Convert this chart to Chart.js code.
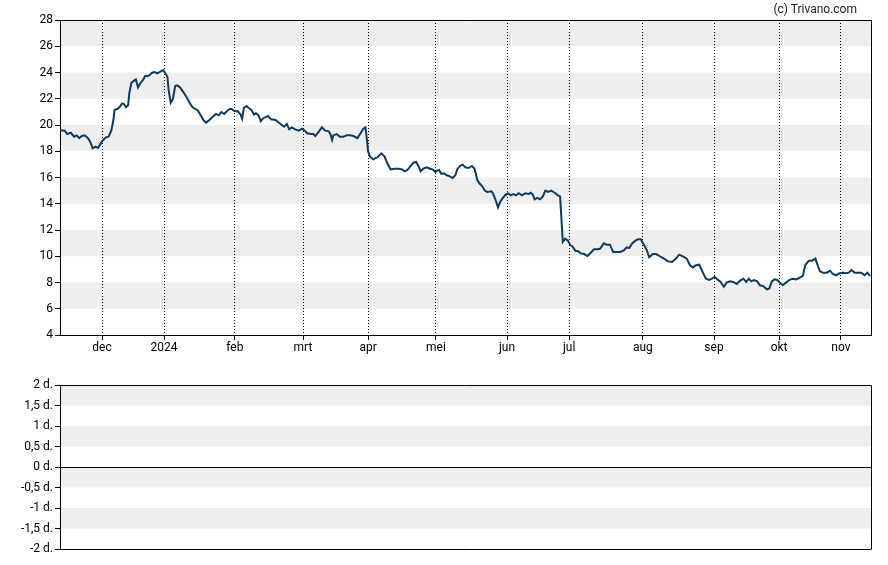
<!DOCTYPE html>
<html>
<head>
<meta charset="utf-8">
<script src="https://cdn.jsdelivr.net/npm/chart.js@4"></script>
<style>
  html, body { margin: 0; padding: 0; background: #fff; }
  body { width: 888px; height: 565px; position: relative; overflow: hidden; font-family: Roboto, "Liberation Sans", sans-serif; }
  #top { position: absolute; left: 0; top: 0; width: 888px; height: 365px; }
  #bot { position: absolute; left: 0; top: 365px; width: 888px; height: 200px; }
  #credit { position: absolute; top: 2px; right: 31px; font-size: 12px; color: #222; line-height: 14px; }
</style>
</head>
<body>
<div id="top"><canvas id="c1" width="888" height="365"></canvas></div>
<div id="bot"><canvas id="c2" width="888" height="200"></canvas></div>
<div id="credit">(c) Trivano.com</div>
<script>
// trading-session index (x) and closing price (y)
const sessions = [0,1.6,2.4,3.6,4.7,5.6,6.4,7.3,8.2,9.1,10,10.9,11.8,12.7,13.6,14.4,15.3,16.2,17.1,17.8,18.2,19.3,20,20.7,21.3,22,22.7,23.1,23.8,24.7,25.3,26,26.9,27.8,28.4,29.3,30,30.7,31.6,32.4,33.3,34.4,35.1,35.8,36.2,36.9,37.6,38.4,39.1,40,41.1,42.2,43.3,44.2,45.3,46,46.9,47.8,48.7,49.8,50.9,52,52.9,53.8,54.7,55.8,56.7,57.3,58.2,59.3,60.2,60.7,61.3,62.2,62.9,63.8,64.7,65.3,66.2,66.9,67.6,68.4,69.3,70.4,71.8,72.7,73.8,74.7,75.6,76.4,77.3,78.4,79.6,80.7,81.6,82.4,83.6,84.4,85.1,86.2,87.3,88.4,89.6,90.2,90.7,91.1,92.2,93.3,94.4,95.6,96.7,97.8,99.1,100.2,101.1,101.8,102.2,102.7,103.3,104.4,105.8,107.1,108.2,109.1,110.2,111.6,112.9,114,114.9,115.8,116.9,117.8,118.7,119.6,120.2,121.1,122.2,123.3,124.2,125.1,125.8,126.4,127.1,128,128.9,129.8,130.9,131.8,132.4,133.3,134.2,135.1,136.2,137.3,138.2,139.1,139.8,140.7,141.6,142.4,143.8,144.4,145.1,146,146.7,147.6,148.4,149.3,150.2,151.1,152,152.9,154,155.1,156.2,156.9,157.6,158.2,159.1,160,160.9,161.8,162.7,163.8,164.9,166,166.7,167.1,167.6,168.4,169.3,170,170.9,171.8,172.7,173.6,174.7,175.8,176.9,178,179.1,180,181.3,182.2,183.3,184.4,185.6,186.7,187.8,188.9,189.8,190.7,191.8,192.7,193.6,194.4,195.6,196.4,197.6,198.7,199.8,201.3,202.7,204,205.3,206.4,207.8,208.9,210,210.9,212,213.1,214.2,215.3,216.4,217.3,218.2,219.1,220.2,221.3,222.2,223.3,224.4,225.6,226.7,227.8,228.7,229.6,230.4,231.3,232.4,233.3,234.4,235.6,236.4,237.3,238.2,239.1,240,240.9,242,243.1,244.2,245.3,246.4,247.6,248.4,249.6,250.7,251.8,252.4,253.3,254.4,255.6,256.7,257.6,258.7,259.8,260.9,262,262.9,263.8,264.9,266,267.1,268.2,269.1,270];
const prices = [19.6,19.57,19.31,19.41,19.11,19.21,19.0,19.16,19.21,19.06,18.76,18.22,18.35,18.25,18.6,18.86,19.06,19.11,19.57,20.38,21.14,21.24,21.4,21.65,21.6,21.35,21.5,22.41,23.22,23.38,23.48,22.87,23.22,23.48,23.73,23.73,23.83,23.98,24.04,23.94,24.04,24.19,23.94,23.68,22.67,21.7,21.96,22.97,23.02,22.87,22.51,22.11,21.65,21.35,21.2,21.09,20.74,20.38,20.18,20.38,20.63,20.84,20.74,20.99,20.84,21.09,21.24,21.2,21.04,21.04,20.79,20.48,21.3,21.45,21.3,21.14,20.79,20.89,20.74,20.28,20.48,20.59,20.69,20.43,20.38,20.23,20.02,19.87,20.08,19.67,19.82,19.67,19.57,19.72,19.57,19.37,19.31,19.31,19.16,19.47,19.82,19.57,19.52,19.26,18.86,19.21,19.31,19.11,19.11,19.21,19.21,19.16,19.0,19.37,19.72,19.82,19.11,18.0,17.59,17.39,17.54,17.84,17.59,17.08,16.62,16.67,16.67,16.62,16.47,16.57,16.88,17.13,17.18,16.82,16.47,16.67,16.78,16.67,16.62,16.42,16.52,16.57,16.27,16.32,16.17,16.11,15.96,16.17,16.62,16.88,16.98,16.78,16.72,16.88,16.67,15.81,15.56,15.35,15.0,14.9,14.95,14.74,14.34,13.73,14.13,14.44,14.64,14.8,14.64,14.74,14.64,14.8,14.64,14.8,14.74,14.84,14.69,14.34,14.44,14.34,14.54,15.0,14.9,15.0,14.84,14.64,14.54,13.01,11.09,11.34,11.19,10.88,10.73,10.42,10.38,10.22,10.17,10.02,10.27,10.53,10.53,10.57,10.98,10.88,10.88,10.32,10.32,10.32,10.42,10.67,10.63,10.98,11.19,11.29,11.29,10.98,10.47,9.92,10.17,10.17,10.02,9.82,9.61,9.56,9.82,10.12,9.97,9.82,9.31,9.15,9.31,9.36,8.80,8.29,8.19,8.29,8.44,8.24,8.04,7.68,7.99,8.09,8.04,7.89,8.14,8.29,8.04,8.29,8.09,8.19,8.09,7.79,7.73,7.48,7.53,8.09,8.24,8.19,7.99,7.79,7.99,8.19,8.29,8.24,8.34,8.50,9.31,9.66,9.66,9.82,9.41,8.85,8.75,8.75,8.90,8.65,8.55,8.70,8.75,8.70,8.75,8.95,8.75,8.75,8.75,8.55,8.75,8.50];
const monthTicks = [14, 34.7, 58.3, 81, 102.7, 125.3, 149, 169.7, 194.3, 218, 239.7, 260.3];
const monthLabels = ['dec', '2024', 'feb', 'mrt', 'apr', 'mei', 'jun', 'jul', 'aug', 'sep', 'okt', 'nov'];
const xMin = 0, xMax = 270.33;
const priceTicks = [4, 6, 8, 10, 12, 14, 16, 18, 20, 22, 24, 26, 28];
const priceBands = [[6, 8], [10, 12], [14, 16], [18, 20], [22, 24], [26, 28]];
const dayTicks = [-2, -1.5, -1, -0.5, 0, 0.5, 1, 1.5, 2];
const dayBands = [[1.5, 2], [0.5, 1], [-0.5, 0], [-1.5, -1]];

const FONT = { family: 'Roboto, "Liberation Sans", sans-serif', size: 12 };

function bandsPlugin(bands) {
  return {
    id: 'bands',
    beforeDraw(chart) {
      const { ctx, chartArea: a, scales: { y } } = chart;
      ctx.save();
      ctx.fillStyle = '#eeeeee';
      bands.forEach(([lo, hi]) => {
        const y1 = y.getPixelForValue(hi), y2 = y.getPixelForValue(lo);
        ctx.fillRect(a.left, y1, a.right - a.left, y2 - y1);
      });
      ctx.restore();
    },
    afterDraw(chart) {
      const { ctx, chartArea: a } = chart;
      ctx.save();
      ctx.strokeStyle = '#000';
      ctx.lineWidth = 1;
      ctx.beginPath();
      ctx.moveTo(a.left, a.top + 0.5);
      ctx.lineTo(a.right + 0.5, a.top + 0.5);
      ctx.lineTo(a.right + 0.5, a.bottom);
      ctx.stroke();
      ctx.restore();
    }
  };
}

new Chart(document.getElementById('c1'), {
  type: 'line',
  data: {
    datasets: [{
      data: sessions.map((s, i) => ({ x: s, y: prices[i] })),
      borderColor: '#0f3b5f',
      borderWidth: 2,
      pointRadius: 0,
      tension: 0,
      fill: false
    }]
  },
  options: {
    responsive: false,
    animation: false,
    events: [],
    layout: { padding: { top: 20, right: 17, left: 0, bottom: 0 } },
    plugins: { legend: { display: false }, tooltip: { enabled: false } },
    scales: {
      x: {
        type: 'linear', min: xMin, max: xMax,
        afterBuildTicks(scale) { scale.ticks = monthTicks.map(v => ({ value: v })); },
        afterFit(scale) { scale.height = 30; },
        ticks: {
          autoSkip: false, maxRotation: 0, padding: 1, color: '#000', font: FONT,
          callback(v, i) { return monthLabels[i]; }
        },
        grid: { color: '#000', lineWidth: 1, tickLength: 5, tickColor: '#000', drawOnChartArea: true },
        border: { display: true, color: '#000', width: 1, dash: [1, 2] }
      },
      y: {
        type: 'linear', min: 4, max: 28,
        afterBuildTicks(scale) { scale.ticks = priceTicks.map(v => ({ value: v })); },
        afterFit(scale) { scale.width = 60; },
        ticks: { padding: 2, color: '#000', font: FONT },
        grid: { drawOnChartArea: false, tickLength: 5, tickColor: '#000' },
        border: { display: true, color: '#000', width: 1 }
      }
    }
  },
  plugins: [bandsPlugin(priceBands)]
});

new Chart(document.getElementById('c2'), {
  type: 'line',
  data: { datasets: [{ data: [], pointRadius: 0 }] },
  options: {
    responsive: false,
    animation: false,
    events: [],
    layout: { padding: { top: 20, right: 17, left: 0, bottom: 16 } },
    plugins: { legend: { display: false }, tooltip: { enabled: false } },
    scales: {
      x: {
        type: 'linear', min: xMin, max: xMax, display: false
      },
      y: {
        type: 'linear', min: -2, max: 2,
        afterBuildTicks(scale) { scale.ticks = dayTicks.map(v => ({ value: v })); },
        afterFit(scale) { scale.width = 60; },
        ticks: {
          padding: 2, color: '#000', font: FONT,
          callback(v) { return String(v).replace('.', ',') + ' d.'; }
        },
        grid: {
          drawOnChartArea: true, tickLength: 5, tickColor: '#000', lineWidth: 1,
          color(ctx) { return ctx.tick && ctx.tick.value === 0 ? '#000' : 'rgba(0,0,0,0)'; }
        },
        border: { display: true, color: '#000', width: 1 }
      }
    }
  },
  plugins: [bandsPlugin(dayBands), {
    id: 'bottomEdge',
    afterDraw(chart) {
      const { ctx, chartArea: a } = chart;
      ctx.save();
      ctx.strokeStyle = '#000';
      ctx.lineWidth = 1;
      ctx.beginPath();
      ctx.moveTo(a.left, a.bottom + 0.5);
      ctx.lineTo(a.right + 0.5, a.bottom + 0.5);
      ctx.stroke();
      ctx.restore();
    }
  }]
});
</script>
</body>
</html>
